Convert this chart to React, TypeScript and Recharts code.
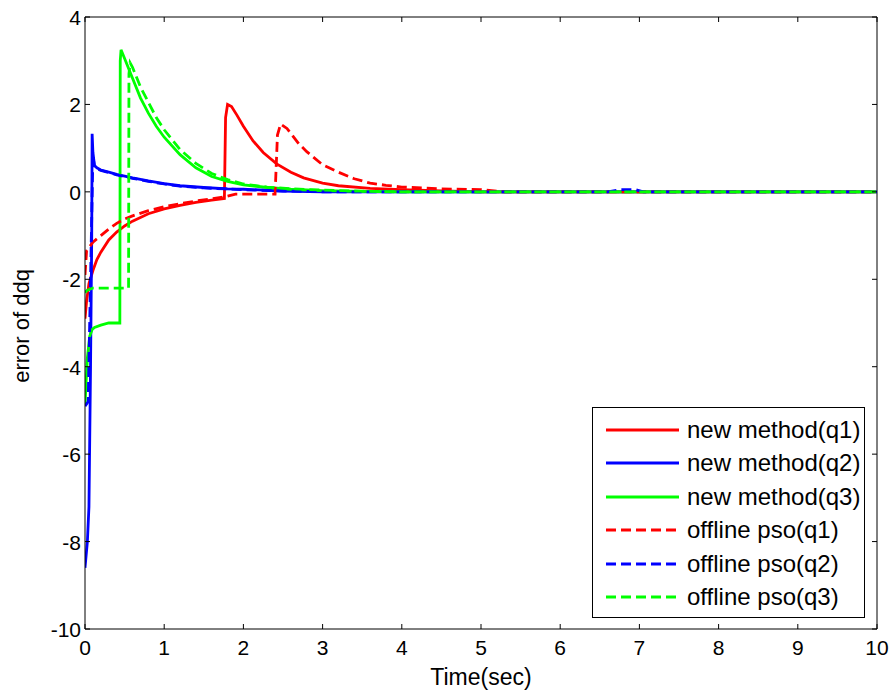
import { LineChart, Line, XAxis, YAxis, CartesianGrid, Legend, Label } from 'recharts'

const FONT = '"Liberation Sans", Arial, Helvetica, sans-serif'

const xTicks = [0, 1, 2, 3, 4, 5, 6, 7, 8, 9, 10]
const yTicks = [-10, -8, -6, -4, -2, 0, 2, 4]

// [time, error]
const newQ1: [number, number][] = [
  [0, -2.9], [0.02, -2.5], [0.05, -2.1], [0.1, -1.8], [0.15, -1.55], [0.2, -1.38], [0.3, -1.1],
  [0.4, -0.92], [0.5, -0.78], [0.6, -0.67], [0.8, -0.5], [1.0, -0.39], [1.2, -0.31], [1.4, -0.24],
  [1.6, -0.19], [1.76, -0.15], [1.775, 1.7], [1.8, 2.0], [1.85, 1.95], [1.92, 1.75], [2.0, 1.5],
  [2.12, 1.17], [2.25, 0.9], [2.42, 0.64], [2.6, 0.45], [2.76, 0.32], [3.0, 0.2], [3.2, 0.14],
  [3.6, 0.08], [4.0, 0.05], [4.5, 0.02], [5, 0], [10, 0],
]
const newQ2: [number, number][] = [
  [0, -8.6], [0.03, -8.0], [0.05, -7.2], [0.07, -4.0], [0.085, -1.0], [0.09, 1.33], [0.1, 0.9],
  [0.12, 0.6], [0.15, 0.55], [0.2, 0.5], [0.3, 0.45], [0.4, 0.4], [0.6, 0.32], [0.8, 0.25],
  [1.0, 0.19], [1.2, 0.14], [1.5, 0.1], [1.8, 0.07], [2.0, 0.06], [2.5, 0.02], [3, 0], [10, 0],
]
const newQ3: [number, number][] = [
  [0, -4.9], [0.01, -4.5], [0.03, -3.8], [0.06, -3.3], [0.09, -3.15], [0.12, -3.1], [0.2, -3.05],
  [0.3, -3.0], [0.44, -3.0], [0.445, 3.0], [0.455, 3.25], [0.5, 3.05], [0.6, 2.6], [0.7, 2.15],
  [0.8, 1.8], [0.9, 1.5], [1.0, 1.25], [1.2, 0.85], [1.4, 0.55], [1.6, 0.35], [1.8, 0.24],
  [2.0, 0.16], [2.3, 0.1], [2.6, 0.06], [3.0, 0.03], [3.5, 0.01], [4, 0], [10, 0],
]
const offQ1: [number, number][] = [
  [0, -1.9], [0.02, -1.35], [0.1, -1.15], [0.2, -1.0], [0.3, -0.85], [0.4, -0.72], [0.5, -0.62],
  [0.6, -0.55], [0.8, -0.43], [1.0, -0.34], [1.2, -0.27], [1.4, -0.21], [1.6, -0.16], [1.8, -0.1],
  [1.9, -0.05], [2.4, -0.05], [2.43, 1.3], [2.47, 1.55], [2.55, 1.45], [2.7, 1.1], [2.8, 0.92],
  [3.0, 0.62], [3.2, 0.45], [3.4, 0.3], [3.6, 0.2], [3.8, 0.15], [4.0, 0.11], [4.5, 0.07],
  [5.0, 0.05], [5.3, 0], [10, 0],
]
const offQ2: [number, number][] = [
  [0, -4.9], [0.04, -4.8], [0.07, -2.0], [0.1, 0.85], [0.12, 0.55], [0.2, 0.49], [0.4, 0.39],
  [0.6, 0.31], [0.8, 0.24], [1.0, 0.18], [1.2, 0.13], [1.5, 0.09], [2.0, 0.05], [2.5, 0.02],
  [3, 0], [6.6, 0], [6.75, 0.05], [6.95, 0.05], [7.05, 0], [10, 0],
]
const offQ3: [number, number][] = [
  [0, -2.3], [0.03, -2.25], [0.1, -2.2], [0.55, -2.2], [0.555, 2.7], [0.57, 2.95], [0.6, 2.85],
  [0.7, 2.4], [0.8, 2.05], [0.9, 1.7], [1.0, 1.42], [1.2, 0.97], [1.4, 0.65], [1.6, 0.42],
  [1.8, 0.28], [2.0, 0.18], [2.3, 0.11], [2.6, 0.07], [3.0, 0.04], [3.5, 0.015], [4, 0], [10, 0],
]

const series = [
  { name: 'new method(q1)', points: newQ1, color: '#ff0000', dashed: false },
  { name: 'new method(q2)', points: newQ2, color: '#0000ff', dashed: false },
  { name: 'new method(q3)', points: newQ3, color: '#00ff00', dashed: false },
  { name: 'offline pso(q1)', points: offQ1, color: '#ff0000', dashed: true },
  { name: 'offline pso(q2)', points: offQ2, color: '#0000ff', dashed: true },
  { name: 'offline pso(q3)', points: offQ3, color: '#00ff00', dashed: true },
]

const W = 889
const H = 691
const margin = { top: 17, right: 12, bottom: 0, left: 0 }
const Y_AXIS_W = 85
const X_AXIS_H = 62
const PLOT_W = W - margin.left - margin.right - Y_AXIS_W
const PLOT_H = H - margin.top - margin.bottom - X_AXIS_H
const TICK = 5
const DASH = '10 5'

function XTick({ x, y, payload }: any) {
  return (
    <g>
      <line x1={x} y1={y} x2={x} y2={y - TICK} stroke="#000" />
      <line x1={x} y1={y - PLOT_H} x2={x} y2={y - PLOT_H + TICK} stroke="#000" />
      <text x={x} y={y + 26} textAnchor="middle" fontSize={21} fontFamily={FONT} fill="#000">
        {payload.value}
      </text>
    </g>
  )
}

function YTick({ x, y, payload }: any) {
  return (
    <g>
      <line x1={x} y1={y} x2={x + TICK} y2={y} stroke="#000" />
      <line x1={x + PLOT_W} y1={y} x2={x + PLOT_W - TICK} y2={y} stroke="#000" />
      <text x={x - 4} y={y + 8} textAnchor="end" fontSize={21} fontFamily={FONT} fill="#000">
        {payload.value}
      </text>
    </g>
  )
}

function LegendBox() {
  return (
    <div
      style={{
        width: 273,
        height: 211,
        border: '1px solid #000',
        background: '#fff',
        boxSizing: 'border-box',
        paddingTop: 5,
        fontFamily: FONT,
      }}
    >
      {series.map((s) => (
        <div key={s.name} style={{ display: 'flex', alignItems: 'center', height: 33.5 }}>
          <svg width={86} height={10} style={{ display: 'block' }}>
            <line
              x1={13}
              x2={86}
              y1={5}
              y2={5}
              stroke={s.color}
              strokeWidth={3}
              strokeDasharray={s.dashed ? DASH : undefined}
            />
          </svg>
          <span style={{ marginLeft: 8, fontSize: 24, color: '#000', lineHeight: 1, whiteSpace: 'nowrap' }}>
            {s.name}
          </span>
        </div>
      ))}
    </div>
  )
}

export default function App() {
  return (
    <div style={{ position: 'absolute', left: 0, top: 0, width: W, height: H, background: '#fff' }}>
      <LineChart width={W} height={H} margin={margin}>
        <CartesianGrid
          stroke="#000"
          strokeWidth={1}
          horizontalCoordinatesGenerator={({ offset }: any) => [offset.top]}
          verticalCoordinatesGenerator={({ offset }: any) => [offset.left + offset.width]}
        />
        <XAxis
          type="number"
          dataKey="t"
          domain={[0, 10]}
          ticks={xTicks}
          allowDataOverflow
          height={X_AXIS_H}
          tickSize={0}
          tickMargin={0}
          tickLine={false}
          axisLine={{ stroke: '#000' }}
          tick={<XTick />}
          interval={0}
        >
          <Label
            content={({ viewBox }: any) => (
              <text
                x={viewBox.x + viewBox.width / 2}
                y={685}
                textAnchor="middle"
                fontSize={23}
                fontFamily={FONT}
                fill="#000"
              >
                Time(sec)
              </text>
            )}
          />
        </XAxis>
        <YAxis
          type="number"
          domain={[-10, 4]}
          ticks={yTicks}
          allowDataOverflow
          width={Y_AXIS_W}
          tickSize={0}
          tickMargin={0}
          tickLine={false}
          axisLine={{ stroke: '#000' }}
          tick={<YTick />}
          interval={0}
        >
          <Label
            content={({ viewBox }: any) => (
              <text
                transform={`translate(29, ${viewBox.y + viewBox.height / 2 + 3}) rotate(-90)`}
                textAnchor="middle"
                fontSize={22}
                fontFamily={FONT}
                fill="#000"
              >
                error of ddq
              </text>
            )}
          />
        </YAxis>
        {series.map((s) => (
          <Line
            key={s.name}
            name={s.name}
            data={s.points.map(([t, v]) => ({ t, v }))}
            dataKey="v"
            type="linear"
            stroke={s.color}
            strokeWidth={2.8}
            strokeDasharray={s.dashed ? DASH : undefined}
            dot={false}
            activeDot={false}
            isAnimationActive={false}
          />
        ))}
        <Legend
          layout="horizontal"
          verticalAlign="middle"
          align="center"
          content={<LegendBox />}
          wrapperStyle={{ left: 592, top: 407, width: 273, height: 211 }}
        />
      </LineChart>
    </div>
  )
}
